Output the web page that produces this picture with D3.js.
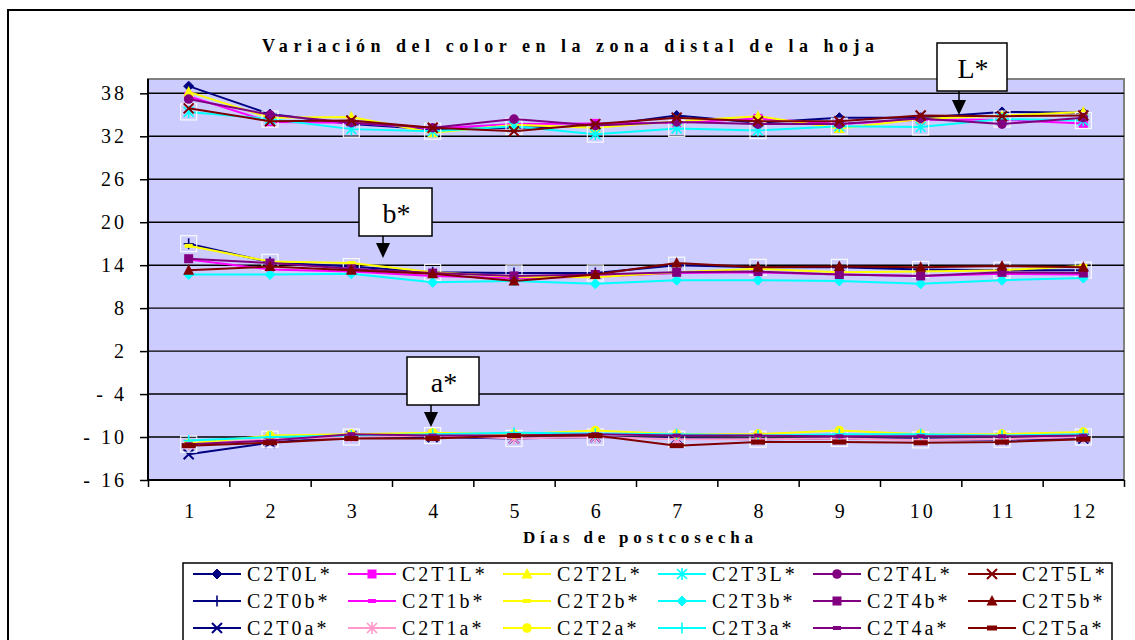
<!DOCTYPE html>
<html lang="es">
<head>
  <meta charset="UTF-8">
  <title>Variación del color en la zona distal de la hoja</title>
  <script src="https://d3js.org/d3.v7.min.js"></script>
  <style>
    body { margin: 0; background: #fff; }
    svg { display: block; }
    svg text { font-family: "Liberation Serif", "Times New Roman", serif; fill: #000; }
    .tick text { font-size: 20px; letter-spacing: 3px; }
    .legend text { font-size: 20px; letter-spacing: 3px; }
  </style>
</head>
<body>
<svg id="chart" width="1135" height="640"></svg>
<script>
// --- data ---
const days = [1, 2, 3, 4, 5, 6, 7, 8, 9, 10, 11, 12];
const yTicks = [-16, -10, -4, 2, 8, 14, 20, 26, 32, 38];

const C2T0L = [39.0, 35.1, 33.7, 33.0, 33.2, 33.4, 34.9, 33.9, 34.6, 34.6, 35.4, 35.3];
const C2T1L = [37.6, 34.0, 33.9, 33.1, 33.7, 33.8, 33.9, 34.5, 33.7, 34.3, 34.3, 33.8];
const C2T2L = [38.2, 34.6, 34.7, 32.5, 33.6, 33.2, 34.1, 34.8, 33.1, 34.4, 34.9, 35.4];
const C2T3L = [35.4, 34.4, 33.0, 32.7, 33.4, 32.3, 33.1, 32.8, 33.4, 33.3, 34.4, 34.2];
const C2T4L = [37.2, 35.0, 33.9, 33.2, 34.4, 33.5, 34.0, 33.7, 33.7, 34.5, 33.7, 34.6];
const C2T5L = [35.9, 34.1, 34.2, 33.2, 32.7, 33.7, 34.6, 34.1, 34.1, 34.9, 34.8, 34.9];

const C2T0b = [17.0, 14.4, 13.8, 13.0, 12.9, 12.9, 14.0, 13.7, 13.7, 13.4, 13.3, 13.3];
const C2T1b = [14.8, 13.4, 13.1, 12.5, 12.2, 12.4, 12.9, 13.0, 12.7, 12.5, 12.8, 12.7];
const C2T2b = [16.7, 14.5, 14.3, 13.0, 12.4, 12.3, 13.0, 13.5, 13.0, 13.1, 13.3, 13.9];
const C2T3b = [12.7, 12.7, 12.8, 11.6, 11.8, 11.4, 11.9, 11.9, 11.8, 11.4, 11.9, 12.2];
const C2T4b = [14.9, 14.3, 13.5, 12.9, 12.5, 12.7, 13.0, 13.1, 12.7, 12.5, 13.0, 12.9];
const C2T5b = [13.3, 13.8, 13.3, 12.8, 11.8, 12.7, 14.3, 13.7, 13.8, 13.7, 13.9, 13.7];

const C2T0a = [-12.4, -10.8, -9.9, -10.0, -10.2, -10.0, -10.2, -10.3, -10.2, -10.3, -10.4, -10.2];
const C2T1a = [-11.0, -10.3, -10.0, -9.8, -10.2, -10.0, -10.3, -10.3, -10.2, -10.4, -10.3, -10.0];
const C2T2a = [-10.9, -9.8, -9.6, -9.4, -9.6, -9.1, -9.6, -9.6, -9.1, -9.6, -9.6, -9.3];
const C2T3a = [-10.5, -10.0, -9.8, -9.6, -9.4, -9.5, -9.6, -9.8, -9.6, -9.6, -9.8, -9.6];
const C2T4a = [-11.0, -10.5, -9.6, -9.8, -9.8, -9.6, -9.8, -9.8, -9.9, -9.9, -9.9, -9.8];
const C2T5a = [-11.2, -10.8, -10.2, -10.2, -9.8, -9.8, -11.2, -10.7, -10.7, -10.8, -10.7, -10.3];

const seriesNames = ["C2T0L*", "C2T1L*", "C2T2L*", "C2T3L*", "C2T4L*", "C2T5L*",
                     "C2T0b*", "C2T1b*", "C2T2b*", "C2T3b*", "C2T4b*", "C2T5b*",
                     "C2T0a*", "C2T1a*", "C2T2a*", "C2T3a*", "C2T4a*", "C2T5a*"];
const seriesValues = [C2T0L, C2T1L, C2T2L, C2T3L, C2T4L, C2T5L,
                      C2T0b, C2T1b, C2T2b, C2T3b, C2T4b, C2T5b,
                      C2T0a, C2T1a, C2T2a, C2T3a, C2T4a, C2T5a];

// --- styles ---
const colors = ["#000080", "#FF00FF", "#FFFF00", "#00FFFF", "#800080", "#800000",
                "#000080", "#FF00FF", "#FFFF00", "#00FFFF", "#800080", "#800000",
                "#000080", "#FF99CC", "#FFFF00", "#00FFFF", "#800080", "#800000"];
const markers = ["diamond", "square", "triangle", "asterisk", "circle", "x",
                 "plus", "dash", "dash", "diamond", "square", "triangle",
                 "x", "asterisk", "circle", "plus", "dash", "bar"];
const boxed = ["C2T3L*", "C2T0b*", "C2T1a*"];  // series drawn with the white square outline

const serif = "Liberation Serif";
const svg = d3.select("#chart");
const plot = { left: 148, top: 79, right: 1124, bottom: 480 };

const x = d3.scaleLinear().domain([0.5, 12.5]).range([plot.left, plot.right]);
const y = d3.scaleLinear().domain([-16, 40]).range([plot.bottom, plot.top]);

// outer chart frame
svg.append("rect").attr("x", 8).attr("y", 10).attr("width", 1140).attr("height", 700)
  .attr("fill", "#fff").attr("stroke", "#000").attr("stroke-width", 2);

// title
svg.append("text").attr("x", 568).attr("y", 52).attr("text-anchor", "middle")
  .attr("font-family", serif).attr("font-size", 18).attr("font-weight", "bold")
  .attr("textLength", 612).attr("lengthAdjust", "spacing")
  .text("Variación del color en la zona distal de la hoja");

// plot area
svg.append("rect").attr("x", plot.left).attr("y", plot.top)
  .attr("width", plot.right - plot.left).attr("height", plot.bottom - plot.top)
  .attr("fill", "#CCCCFF").attr("stroke", "#808080").attr("stroke-width", 2);

// gridlines
svg.append("g").selectAll("line").data(yTicks.filter(t => t > -16)).join("line")
  .attr("x1", plot.left).attr("x2", plot.right)
  .attr("y1", d => y(d)).attr("y2", d => y(d))
  .attr("stroke", "#000").attr("stroke-width", 1.4);

// y axis
const yAxis = svg.append("g").attr("transform", `translate(${plot.left},0)`)
  .call(d3.axisLeft(y).tickValues(yTicks).tickSize(8).tickPadding(13).tickFormat(d3.format("d")))
  .attr("font-family", serif).attr("font-size", 20);
yAxis.select(".domain").attr("stroke", "#000").attr("stroke-width", 2).attr("d", `M0,${plot.top}V${plot.bottom}`);
yAxis.selectAll(".tick line").attr("stroke", "#000").attr("stroke-width", 1.5);
yAxis.selectAll(".tick text").text(d => d < 0 ? "- " + Math.abs(d) : d);

// x axis: ticks at category boundaries, labels at centres
const bounds = d3.range(0.5, 12.6, 1);
const xAxis = svg.append("g").attr("transform", `translate(0,${plot.bottom})`)
  .call(d3.axisBottom(x).tickValues(bounds).tickSize(7).tickFormat(""));
xAxis.select(".domain").attr("stroke", "#000").attr("stroke-width", 2).attr("d", `M${plot.left},0H${plot.right}`);
xAxis.selectAll(".tick line").attr("stroke", "#000").attr("stroke-width", 1.5);

const xLabels = svg.append("g").attr("transform", `translate(0,${plot.bottom})`)
  .call(d3.axisBottom(x).tickValues(days).tickSize(0).tickPadding(24).tickFormat(d3.format("d")))
  .attr("font-family", serif).attr("font-size", 20);
xLabels.select(".domain").remove();
xLabels.selectAll(".tick text").attr("dx", 1.5);

svg.append("text").attr("x", 638).attr("y", 543).attr("text-anchor", "middle")
  .attr("font-family", serif).attr("font-size", 17).attr("font-weight", "bold")
  .attr("textLength", 230).attr("lengthAdjust", "spacing")
  .text("Días de postcosecha");

// marker drawing
function drawMarker(g, type, color, legend) {
  const sw = 1.6;
  switch (type) {
    case "diamond":
      g.append("path").attr("d", "M0,-5L5,0L0,5L-5,0Z").attr("fill", color).attr("stroke", color).attr("stroke-width", 1);
      break;
    case "square":
      g.append("rect").attr("x", -4.5).attr("y", -4.5).attr("width", 9).attr("height", 9).attr("fill", color);
      break;
    case "triangle":
      g.append("path").attr("d", "M0,-6L5.5,4.5L-5.5,4.5Z").attr("fill", color);
      break;
    case "circle":
      g.append("circle").attr("r", 4.8).attr("fill", color);
      break;
    case "x":
      g.append("path").attr("d", "M-5,-5L5,5M-5,5L5,-5").attr("stroke", color).attr("stroke-width", sw + 0.4).attr("fill", "none");
      break;
    case "plus":
      g.append("path").attr("d", "M-5,0H5M0,-5.5V5.5").attr("stroke", color).attr("stroke-width", sw).attr("fill", "none");
      break;
    case "asterisk":
      g.append("path").attr("d", "M-5,-5L5,5M-5,5L5,-5M0,-6V6").attr("stroke", color).attr("stroke-width", sw).attr("fill", "none");
      break;
    case "dash":
      g.append("rect").attr("x", -4).attr("y", -2).attr("width", 8).attr("height", 4).attr("fill", color);
      break;
    case "bar":
      g.append("rect").attr("x", legend ? -5 : -7).attr("y", -2.5).attr("width", legend ? 10 : 14).attr("height", 5).attr("fill", color);
      break;
  }
}

const line = d3.line().x((d, i) => x(days[i])).y(d => y(d));

const series = seriesNames.map((name, i) => ({ name, values: seriesValues[i], color: colors[i], marker: markers[i] }));

const sg = svg.append("g").selectAll("g").data(series).join("g");
sg.append("path").attr("d", d => line(d.values)).attr("fill", "none")
  .attr("stroke", d => d.color).attr("stroke-width", 2);
sg.each(function (s) {
  const g = d3.select(this);
  s.values.forEach((v, i) => {
    const m = g.append("g").attr("transform", `translate(${x(days[i])},${y(v)})`);
    if (boxed.includes(s.name)) {
      m.append("rect").attr("x", -8).attr("y", -8).attr("width", 16).attr("height", 16)
        .attr("fill", "none").attr("stroke", "#fff").attr("stroke-width", 1.2).attr("opacity", 0.9);
    }
    drawMarker(m, s.marker, s.color, false);
  });
});

// annotations (text boxes with arrows, placed in pixel space like the original)
const notes = [
  { label: "L*", box: [937, 43, 70, 48], arrowX: 959, tipY: 115 },
  { label: "b*", box: [359, 188, 73, 48], arrowX: 383, tipY: 258 },
  { label: "a*", box: [407, 357, 72, 48], arrowX: 431, tipY: 427 }
];
const ng = svg.append("g").selectAll("g").data(notes).join("g");
ng.append("line").attr("x1", d => d.arrowX).attr("x2", d => d.arrowX)
  .attr("y1", d => d.box[1] + d.box[3]).attr("y2", d => d.tipY - 10)
  .attr("stroke", "#000").attr("stroke-width", 1.5);
ng.append("path").attr("d", d => `M${d.arrowX - 7},${d.tipY - 15}L${d.arrowX + 7},${d.tipY - 15}L${d.arrowX},${d.tipY}Z`)
  .attr("fill", "#000");
ng.append("rect").attr("x", d => d.box[0]).attr("y", d => d.box[1])
  .attr("width", d => d.box[2]).attr("height", d => d.box[3])
  .attr("fill", "#fff").attr("stroke", "#000").attr("stroke-width", 1.5);
ng.append("text").attr("x", d => d.box[0] + d.box[2] / 2 + 1).attr("y", d => d.box[1] + 35)
  .attr("text-anchor", "middle").attr("font-family", serif).attr("font-size", 28).text(d => d.label);

// legend
const legend = svg.append("g").attr("class", "legend");
legend.append("rect").attr("x", 183).attr("y", 563).attr("width", 929).attr("height", 120)
  .attr("fill", "#fff").attr("stroke", "#000").attr("stroke-width", 1.5);
const li = legend.selectAll("g").data(series).join("g")
  .attr("transform", (d, i) => `translate(${193 + (i % 6) * 155},${574 + Math.floor(i / 6) * 27})`);
li.append("line").attr("x1", 0).attr("x2", 48).attr("stroke", d => d.color).attr("stroke-width", 2);
li.each(function (s) {
  const m = d3.select(this).append("g").attr("transform", "translate(24,0)");
  drawMarker(m, s.marker, s.color, true);
});
li.append("text").attr("x", 54).attr("y", 7).attr("font-family", serif).text(d => d.name);
</script>
</body>
</html>
